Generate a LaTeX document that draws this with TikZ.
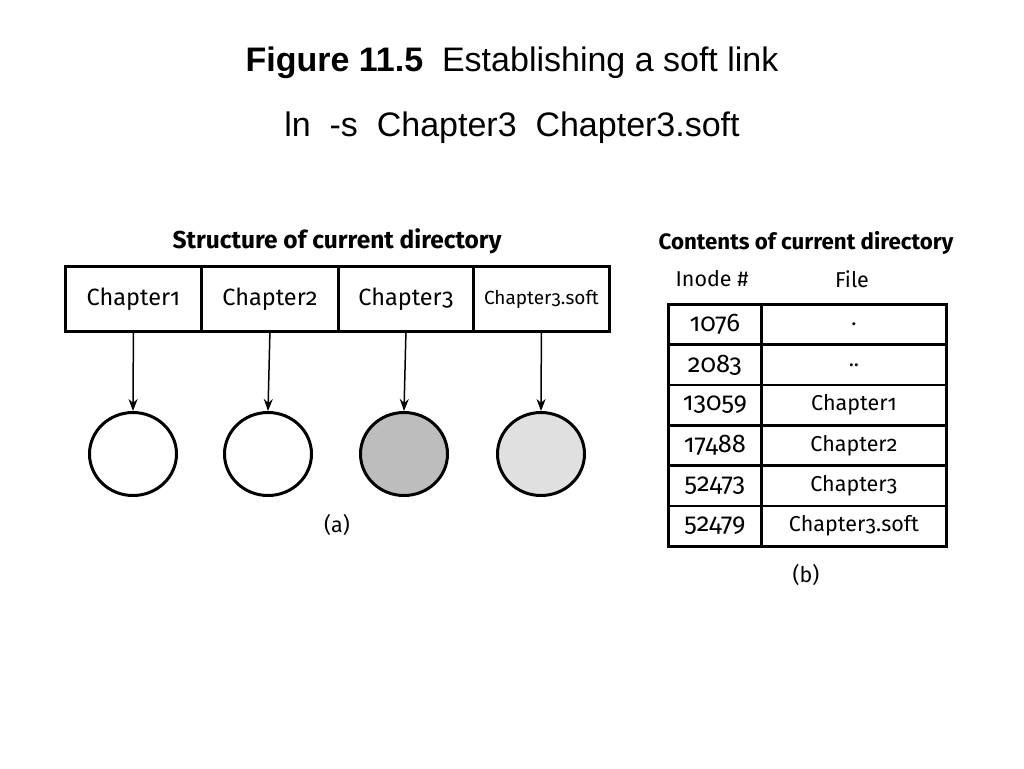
\documentclass[tikz,border=0pt]{standalone}
\usepackage{fontspec}
\setmainfont{Liberation Sans}
\newfontfamily\fira[Numbers=OldStyle]{Fira Sans}
\usetikzlibrary{arrows.meta,shapes.geometric}
\begin{document}
\begin{tikzpicture}[x=1pt,y=-1pt,
  cell/.style={draw,line width=2.8pt,minimum height=65pt,inner sep=0pt,font=\fira\fontsize{23.5}{27}\selectfont,anchor=north west},
  tcell/.style={draw,line width=2.8pt,minimum height=40.3pt,inner sep=0pt,font=\fira\fontsize{21.5}{25}\selectfont,anchor=north west},
  inode/.style={draw,ellipse,line width=3pt,minimum width=87pt,minimum height=83pt,inner sep=0pt},
  conn/.style={line width=1.5pt,-{Stealth[length=12pt,width=9pt]}},
  heading/.style={font=\fira\bfseries\fontsize{24.5}{28}\selectfont},
  lab/.style={font=\fira\fontsize{21.5}{25}\selectfont}]
\useasboundingbox (0,0) rectangle (1024,768);
\node (t1) at (512,63) {\fontsize{34}{39}\selectfont\textbf{Figure 11.5}\ \ Establishing a soft link};
\node (t2) at (512,128) {\fontsize{34}{39}\selectfont ln\ \ -s\ \ Chapter3\ \ Chapter3.soft};
% (a)
\node[heading] (ha) at (337,241) {Structure of current directory};
\node[cell,minimum width=136pt] (c1) at (64,265) {Chapter1};
\node[cell,minimum width=137pt] (c2) at (200,265) {Chapter2};
\node[cell,minimum width=135pt] (c3) at (337,265) {Chapter3};
\node[cell,minimum width=136pt,font=\fira\fontsize{19}{23}\selectfont] (c4) at (472,265) {Chapter3.soft};
\node[inode] (i1) at (133,454) {};
\node[inode] (i2) at (268,454) {};
\node[inode,fill=black!26] (i3) at (404,454) {};
\node[inode,fill=black!12] (i4) at (541,454) {};
\foreach \i in {1,2,3,4} \draw[conn] (c\i.south) -- (i\i.north);
\node[lab] (la) at (337,525) {(a)};
% (b)
\node[heading,font=\fira\bfseries\fontsize{22.3}{26}\selectfont] (hb) at (806,243) {Contents of current directory};
\node[lab] (hi) at (712,279) {Inode \#};
\node[lab] (hf) at (852,279) {File};
\foreach \n/\f [count=\r from 0] in {1076/.,2083/..,13059/Chapter1,17488/Chapter2,52473/Chapter3,52479/Chapter3.soft}{
  \node[tcell,minimum width=93pt,font=\fira\fontsize{25.5}{28}\selectfont] (n\r) at (667,303+40.3*\r) {\n};
  \node[tcell,minimum width=185pt] (f\r) at (760,303+40.3*\r) {\f};
}
\node[lab] (lb) at (806,575) {(b)};
\end{tikzpicture}
\end{document}
